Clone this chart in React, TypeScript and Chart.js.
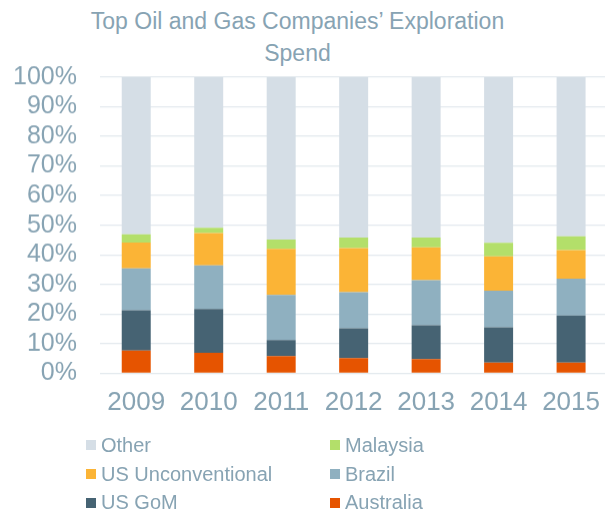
import React, { useEffect, useRef } from "react";
import { Chart, registerables } from "chart.js";

Chart.register(...registerables);

const categories = ["2009", "2010", "2011", "2012", "2013", "2014", "2015"];
const australia = [7.6, 6.9, 5.8, 5.1, 4.8, 3.6, 3.6];
const usGoM = [13.7, 14.8, 5.4, 10.1, 11.4, 11.9, 15.9];
const brazil = [14.1, 14.7, 15.2, 12.2, 15.2, 12.4, 12.4];
const usUnconventional = [8.7, 10.9, 15.6, 14.9, 11.1, 11.6, 9.7];
const malaysia = [2.8, 1.8, 3.1, 3.5, 3.3, 4.5, 4.6];
const other = [53.1, 50.9, 54.9, 54.2, 54.2, 56.0, 53.8];
const yTicks = [0, 10, 20, 30, 40, 50, 60, 70, 80, 90, 100];

const titleLines = ["Top Oil and Gas Companies\u2019 Exploration", "Spend"];

const series = [
  { label: "Australia", data: australia, color: "#e65400" },
  { label: "US GoM", data: usGoM, color: "#466373" },
  { label: "Brazil", data: brazil, color: "#8fb0c0" },
  { label: "US Unconventional", data: usUnconventional, color: "#fbb436" },
  { label: "Malaysia", data: malaysia, color: "#b3df6a" },
  { label: "Other", data: other, color: "#d5dee6" },
];

// legend order: Other, Malaysia / US Unconventional, Brazil / US GoM, Australia
const legendOrder = ["Other", "Malaysia", "US Unconventional", "Brazil", "US GoM", "Australia"];

const FONT = '"Liberation Sans", Arial, sans-serif';
const TEXT = "#87a3b3";

export default function App() {
  const ref = useRef<HTMLCanvasElement | null>(null);

  useEffect(() => {
    if (!ref.current) return;
    const chart = new Chart(ref.current, {
      type: "bar",
      data: {
        labels: categories,
        datasets: series.map((s) => ({
          label: s.label,
          data: s.data,
          backgroundColor: s.color,
          borderWidth: 0,
          categoryPercentage: 1,
          barPercentage: 0.4,
        })),
      },
      options: {
        animation: false,
        responsive: true,
        maintainAspectRatio: false,
        layout: { padding: { top: 77, left: 0, right: 0, bottom: 3 } },
        plugins: {
          legend: { display: false },
          title: { display: false },
          tooltip: { enabled: false },
        },
        scales: {
          x: {
            stacked: true,
            grid: { display: false, drawTicks: false },
            border: { display: false },
            ticks: {
              color: TEXT,
              font: { family: FONT, size: 26 },
              padding: 14,
              maxRotation: 0,
              autoSkip: false,
            },
          },
          y: {
            stacked: true,
            min: 0,
            max: 100,
            afterBuildTicks: (scale: any) => {
              scale.ticks = yTicks.map((v) => ({ value: v }));
            },
            afterFit: (scale: any) => {
              scale.width = 100;
            },
            grid: { color: "#e3e9ee", lineWidth: 1.3, drawTicks: false },
            border: { display: false },
            ticks: {
              color: TEXT,
              font: { family: FONT, size: 25 },
              padding: 23,
              autoSkip: false,
              callback: (v: any) => v + "%",
            },
          },
        },
      },
    });
    return () => chart.destroy();
  }, []);

  const byLabel: Record<string, string> = {};
  series.forEach((s) => (byLabel[s.label] = s.color));

  return (
    <div
      style={{
        position: "fixed",
        left: 0,
        top: 0,
        width: 605,
        height: 515,
        overflow: "hidden",
        background: "#ffffff",
        fontFamily: FONT,
      }}
    >
      <div
        style={{
          position: "absolute",
          left: 0,
          top: 6,
          width: 595,
          textAlign: "center",
          color: TEXT,
          fontSize: 23,
          lineHeight: "31.7px",
        }}
      >
        {titleLines.map((t, i) => (
          <div key={i}>{t}</div>
        ))}
      </div>
      <div style={{ position: "absolute", left: 0, top: 0, width: 614, height: 434.5 }}>
        <canvas ref={ref} />
      </div>
      <div
        style={{
          position: "absolute",
          left: 86,
          top: 431,
          width: 500,
          display: "grid",
          gridTemplateColumns: "244px 250px",
          color: TEXT,
          fontSize: 20,
        }}
      >
        {legendOrder.map((l) => (
          <div key={l} style={{ display: "flex", alignItems: "center", height: 28.8 }}>
            <span
              style={{
                display: "inline-block",
                width: 10,
                height: 10,
                background: byLabel[l],
                marginRight: 5,
              }}
            />
            <span>{l}</span>
          </div>
        ))}
      </div>
    </div>
  );
}
